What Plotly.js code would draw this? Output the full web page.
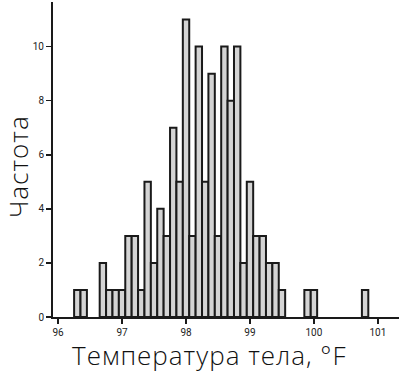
<!DOCTYPE html>
<html>
<head>
<meta charset="utf-8">
<script src="https://cdn.plot.ly/plotly-3.0.1.min.js"></script>
<style>html,body{margin:0;padding:0;background:#fff;}#chart{width:399px;height:374px;}
.annotation-text{letter-spacing:1px;}</style>
</head>
<body>
<div id="chart"></div>
<script>
// Body temperature bins (°F, bin centres, width 0.1) and counts
const temps = [96.3, 96.4, 96.7, 96.8, 96.9, 97.0, 97.1, 97.2, 97.3, 97.4, 97.5, 97.6, 97.7, 97.8, 97.9,
               98.0, 98.1, 98.2, 98.3, 98.4, 98.5, 98.6, 98.7, 98.8, 98.9, 99.0, 99.1, 99.2, 99.3, 99.4,
               99.5, 99.9, 100.0, 100.8];
const counts = [1, 1, 2, 1, 1, 1, 3, 3, 1, 5, 2, 4, 3, 7, 5,
                11, 3, 10, 5, 9, 3, 10, 8, 10, 2, 5, 3, 3, 2, 2,
                1, 1, 1, 1];
const xTicks = [96, 97, 98, 99, 100, 101];
const yTicks = [0, 2, 4, 6, 8, 10];
const xTitle = 'Температура тела, °F';
const yTitle = 'Частота';

const trace = {
  type: 'bar',
  x: temps,
  y: counts,
  width: 0.1,
  marker: {color: '#d4d4d4', line: {color: '#1a1a1a', width: 2}},
  hoverinfo: 'skip'
};

const titleFont = {family: 'Open Sans, sans-serif', weight: 300, color: '#111111'};

const layout = {
  width: 399, height: 374,
  margin: {l: 53, r: 0, t: 2, b: 57},
  paper_bgcolor: '#ffffff', plot_bgcolor: '#ffffff',
  showlegend: false,
  bargap: 0,
  font: {family: 'Open Sans, sans-serif', color: '#1a1a1a'},
  xaxis: {
    range: [95.92, 101.33],
    tickvals: xTicks,
    ticktext: xTicks.map(String),
    ticks: 'outside', ticklen: 5, tickwidth: 1.5, tickcolor: '#1a1a1a',
    showline: true, linecolor: '#1a1a1a', linewidth: 2,
    showgrid: false, zeroline: false,
    tickfont: {size: 10, family: 'Liberation Sans Narrow, Roboto, sans-serif', color: '#222'}
  },
  yaxis: {
    range: [0, 11.65],
    tickvals: yTicks,
    ticktext: yTicks.map(String),
    ticks: 'outside', ticklen: 5, tickwidth: 1.5, tickcolor: '#1a1a1a',
    showline: true, linecolor: '#1a1a1a', linewidth: 2,
    showgrid: false, zeroline: false,
    tickfont: {size: 10, family: 'Liberation Sans Narrow, Roboto, sans-serif', color: '#222'}
  },
  annotations: [
    {text: xTitle, xref: 'paper', yref: 'paper', x: 0.451, y: -0.122,
     xanchor: 'center', yanchor: 'middle', showarrow: false,
     font: Object.assign({size: 26}, titleFont)},
    {text: yTitle, xref: 'paper', yref: 'paper', x: -0.103, y: 0.477,
     xanchor: 'center', yanchor: 'middle', showarrow: false, textangle: -90,
     font: Object.assign({size: 26}, titleFont)}
  ]
};

Plotly.newPlot('chart', [trace], layout, {staticPlot: true, displayModeBar: false});
</script>
</body>
</html>
